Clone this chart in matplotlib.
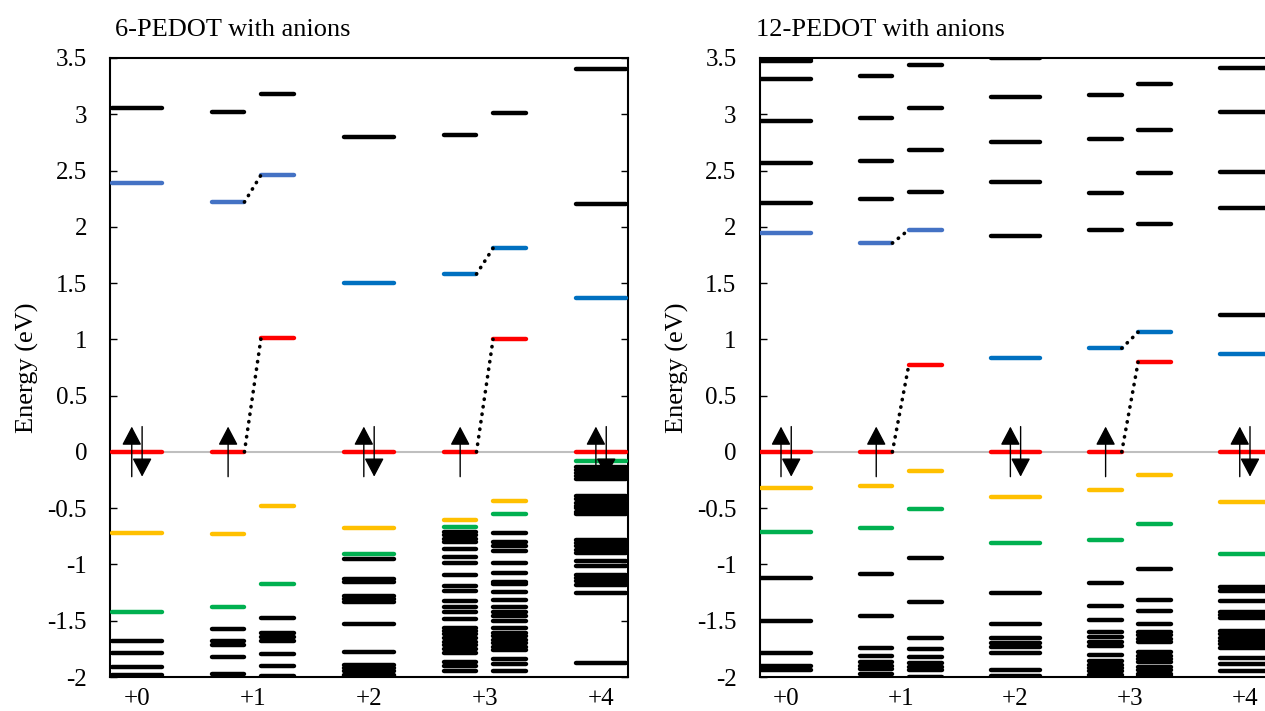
import numpy as np
import matplotlib.pyplot as plt

plt.rcParams['font.family'] = ['Liberation Serif', 'DejaVu Serif']
plt.rcParams['axes.unicode_minus'] = False

charges = ['+0', '+1', '+2', '+3', '+4']
titles = ['6-PEDOT with anions', '12-PEDOT with anions']

# columns: +0, +1 alpha, +1 beta, +2, +3 alpha, +3 beta, +4   (energies in eV)
nan = np.nan

# 6-PEDOT with anions
p6_red = [0.0, 0.0, 1.01, 0.0, 0.0, 1.0, 0.0]
p6_blue = [2.39, 2.22, 2.46, 1.50, 1.58, 1.81, 1.37]
p6_yellow = [-0.72, -0.726, -0.483, -0.673, -0.607, -0.436, nan]
p6_green = [-1.422, -1.375, -1.17, -0.907, -0.667, -0.551, -0.08]
p6_black = [
    [3.055, -1.677, -1.79, -1.914, -1.982],
    [3.02, -1.573, -1.68, -1.72, -1.825, -1.974],
    [3.18, -1.479, -1.606, -1.642, -1.68, -1.793, -1.905, -1.995],
    [2.80, -0.954, -1.125, -1.16, -1.284, -1.31, -1.336, -1.529, -1.781,
     -1.89, -1.92, -1.95, -1.98, -1.995],
    [2.82, -0.708, -0.74, -0.77, -0.80, -0.865, -0.93, -0.99, -1.096, -1.188,
     -1.232, -1.321, -1.381, -1.422, -1.487, -1.562, -1.59, -1.62, -1.65,
     -1.686, -1.716, -1.75, -1.784, -1.866, -1.905, -1.944],
    [3.01, -0.717, -0.803, -0.84, -0.88, -0.99, -1.073, -1.152, -1.173,
     -1.244, -1.312, -1.38, -1.42, -1.458, -1.5, -1.567, -1.612, -1.64, -1.67,
     -1.70, -1.73, -1.76, -1.843, -1.885, -1.944],
    [3.40, 2.207, -0.13, -0.16, -0.19, -0.215, -0.24, -0.39, -0.42, -0.45,
     -0.48, -0.50, -0.53, -0.55, -0.78, -0.81, -0.84, -0.87, -0.90, -0.969,
     -1.013, -1.09, -1.12, -1.15, -1.18, -1.25, -1.873],
]

# 12-PEDOT with anions
p12_red = [0.0, 0.0, 0.77, 0.0, 0.0, 0.797, 0.0]
p12_blue = [1.949, 1.855, 1.973, 0.83, 0.921, 1.064, 0.868]
p12_yellow = [-0.317, -0.30, -0.172, -0.403, -0.341, -0.207, -0.441]
p12_green = [-0.711, -0.672, -0.506, -0.81, -0.779, -0.643, -0.907]
p12_black = [
    [3.495, 3.475, 3.313, 2.942, 2.566, 2.216, -1.117, -1.50, -1.787, -1.90,
     -1.935],
    [3.339, 2.969, 2.587, 2.246, -1.088, -1.461, -1.745, -1.813, -1.87, -1.90,
     -1.93, -1.976],
    [3.434, 3.055, 2.684, 2.305, -0.94, -1.33, -1.653, -1.754, -1.825, -1.872,
     -1.91, -1.94, -1.997],
    [3.50, 3.15, 2.75, 2.394, 1.914, -1.25, -1.529, -1.65, -1.70, -1.73,
     -1.783, -1.938, -1.99],
    [3.167, 2.776, 2.299, 1.973, -1.167, -1.372, -1.496, -1.603, -1.641,
     -1.686, -1.725, -1.805, -1.86, -1.89, -1.92, -1.95, -1.98],
    [3.265, 2.862, 2.477, 2.027, -1.043, -1.313, -1.416, -1.532, -1.60, -1.63,
     -1.66, -1.69, -1.78, -1.81, -1.84, -1.87, -1.91, -1.94, -1.97, -1.99],
    [3.41, 3.016, 2.483, 2.163, 1.215, -1.20, -1.235, -1.327, -1.42, -1.45,
     -1.48, -1.59, -1.62, -1.65, -1.68, -1.71, -1.74, -1.828, -1.884, -1.946],
]

# layout
RED, YELLOW, GREEN = '#FF0000', '#FFC000', '#00B050'
BLUE_LIGHT, BLUE = '#4472C4', '#0070C0'
blue_cols = [BLUE_LIGHT, BLUE_LIGHT, BLUE_LIGHT, BLUE, BLUE, BLUE, BLUE]
LW = 3.2
centers = [0.52 + 2.24 * k for k in range(5)]
cap = 0.035
cols = []
for k, c in enumerate(centers):
    if k in (1, 3):
        cols.append((c - 0.83 + cap, c - 0.13 - cap))
        cols.append((c + 0.12 + cap, c + 0.83 - cap))
    else:
        cols.append((c - 0.52 + cap, c + 0.52 - cap))
closed = [0, 3, 6]      # column index with paired electrons
open_alpha = [1, 4]     # alpha column of open-shell states


def level(ax, x, e, color, z):
    ax.plot(x, [e, e], color=color, lw=LW, solid_capstyle='round', zorder=z)


def arrow(ax, x, up):
    y0, y1 = (-0.22, 0.225) if up else (0.225, -0.22)
    ax.annotate('', xy=(x, y1), xytext=(x, y0),
                arrowprops=dict(arrowstyle='-|>,head_length=0.72,head_width=0.38',
                                mutation_scale=16, lw=1, color='k',
                                shrinkA=0, shrinkB=0), zorder=6)


def draw_panel(ax, black, red, blue, yellow, green):
    ax.axhline(0, color='#BFBFBF', lw=1.5, zorder=1)
    for i, x in enumerate(cols):
        for e in black[i]:
            level(ax, x, e, 'k', 3)
        level(ax, x, green[i], GREEN, 4)
        level(ax, x, yellow[i], YELLOW, 4)
        level(ax, x, blue[i], blue_cols[i], 4)
        level(ax, x, red[i], RED, 4)
    # dotted connectors alpha -> beta
    for a in open_alpha:
        b = a + 1
        for vals in (red, blue):
            ax.plot([cols[a][1], cols[b][0]], [vals[a], vals[b]], color='k',
                    lw=2.6, ls=(0, (0.1, 2.0)), dash_capstyle='round', zorder=5)
    # electrons
    for i in closed:
        c = (cols[i][0] + cols[i][1]) / 2
        arrow(ax, c - 0.1, True)
        arrow(ax, c + 0.1, False)
    for i in open_alpha:
        arrow(ax, (cols[i][0] + cols[i][1]) / 2, True)

    ax.set_xlim(0, 10)
    ax.set_ylim(-2, 3.5)
    ax.set_yticks(np.arange(-2, 3.51, 0.5))
    ax.yaxis.set_major_formatter(plt.FuncFormatter(lambda v, p: '%g' % v))
    ax.set_xticks(centers, charges)
    ax.tick_params(axis='y', direction='in', left=True, right=True, length=5,
                   width=1, labelsize=18, pad=16.5)
    ax.tick_params(axis='x', length=0, labelsize=18, pad=8)
    for s in ax.spines.values():
        s.set_linewidth(1.5)
    ax.set_ylabel('Energy (eV)', fontsize=19, labelpad=6)


fig = plt.figure(figsize=(12.65, 7.11), dpi=100)
W, H = 1265, 711
ax1 = fig.add_axes([110 / W, 34 / H, 518 / W, 619 / H])
ax2 = fig.add_axes([759.5 / W, 34 / H, 512 / W, 619 / H])

draw_panel(ax1, p6_black, p6_red, p6_blue, p6_yellow, p6_green)
draw_panel(ax2, p12_black, p12_red, p12_blue, p12_yellow, p12_green)

fig.text(115 / W, 1 - 36 / H, titles[0], fontsize=19, va='baseline', ha='left')
fig.text(756 / W, 1 - 36 / H, titles[1], fontsize=19, va='baseline', ha='left')

fig.savefig('out.png', dpi=100)
